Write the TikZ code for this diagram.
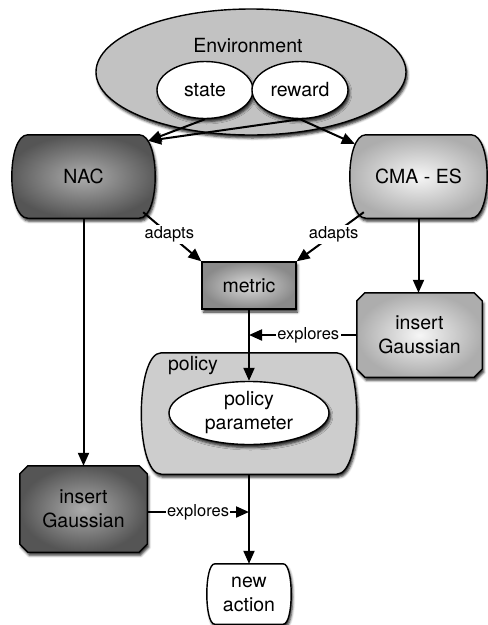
\documentclass[tikz,border=0pt]{standalone}
\usepackage{fontspec}
\setmainfont{TeX Gyre Heros}
\usetikzlibrary{shapes.geometric,shadows.blur,arrows.meta,calc,backgrounds}
\definecolor{envgray}{HTML}{C2C2C2}
\definecolor{polgray}{HTML}{CDCDCD}
\definecolor{darkin}{HTML}{ADADAD}
\definecolor{darkout}{HTML}{555555}
\definecolor{lightin}{HTML}{F6F6F6}
\definecolor{lightout}{HTML}{ADADAD}
\definecolor{metin}{HTML}{DADADA}
\definecolor{metout}{HTML}{8A8A8A}
\newcommand\bulgebox[3]{%
  \path[#3] let \p1=(#1.north west), \p2=(#1.south east) in
  (\x1+#2,\y1) -- (\x2-#2,\y1) .. controls (\x2+#2/3,\y1) and (\x2+#2/3,\y2) .. (\x2-#2,\y2)
  -- (\x1+#2,\y2) .. controls (\x1-#2/3,\y2) and (\x1-#2/3,\y1) .. cycle;}
\newcommand\chambox[3]{%
  \path[#3] let \p1=(#1.north west), \p2=(#1.south east) in
  (\x1+#2,\y1) -- (\x2-#2,\y1) -- (\x2,\y1-#2) -- (\x2,\y2+#2) -- (\x2-#2,\y2)
  -- (\x1+#2,\y2) -- (\x1,\y2+#2) -- (\x1,\y1-#2) -- cycle;}
\begin{document}
\begin{tikzpicture}[x=1pt,y=-1pt,
  font=\fontsize{19.5}{24}\selectfont,
  lbl/.style={font=\fontsize{16.5}{20}\selectfont, fill=white, inner sep=1.5pt},
  arr/.style={line width=2pt, -{Triangle[length=13pt,width=11pt]}},
  shad/.style={blur shadow={shadow xshift=1.5pt,shadow yshift=-3pt,shadow blur radius=2.5pt,shadow opacity=85}},
  bd/.style={draw=black, line width=1.4pt},
  holder/.style={inner sep=0pt, align=center},
  wellipse/.style={ellipse, bd, fill=white, shad, inner sep=0pt, align=center}]
\useasboundingbox (0,0) rectangle (488,625);

% environment
\node[ellipse, bd, fill=envgray, shad, minimum width=310pt, minimum height=126pt] (env) at (251,72) {};
\node (envtext) at (248,46) {Environment};
\node[wellipse, minimum width=96pt, minimum height=57pt] (state) at (205,90) {state};
\node[wellipse, minimum width=96pt, minimum height=57pt] (reward) at (300,90) {reward};

% boxes (text holders)
\node[holder, minimum width=143pt, minimum height=83pt] (nac) at (83.5,176.5) {NAC};
\node[holder, minimum width=137pt, minimum height=83pt] (cma) at (418.5,176.5) {CMA - ES};
\node[rectangle, bd, shad, inner color=metin, outer color=metout, minimum width=94pt, minimum height=47pt] (metric) at (249,285.5) {metric};
\node[holder, minimum width=125pt, minimum height=84pt] (gr) at (419.5,335) {insert\\Gaussian};
\node[holder, minimum width=215pt, minimum height=121pt] (policy) at (249,413.5) {};
\node (policytext) at (193,366) {policy};
\node[wellipse, minimum width=160pt, minimum height=63pt] (pp) at (249,413) {policy\\parameter};
\node[holder, minimum width=127pt, minimum height=86pt] (gl) at (83.5,509) {insert\\Gaussian};
\node[holder, minimum width=84pt, minimum height=60pt] (na) at (249,594) {new\\action};

\begin{scope}[on background layer]
  \bulgebox{nac}{16pt}{bd, shad, inner color=darkin, outer color=darkout}
  \bulgebox{cma}{16pt}{bd, shad, inner color=lightin, outer color=lightout}
  \chambox{gr}{8pt}{bd, shad, inner color=lightin, outer color=lightout}
  \bulgebox{policy}{20pt}{bd, shad, fill=polgray}
  \chambox{gl}{8pt}{bd, shad, inner color=darkin, outer color=darkout}
  \bulgebox{na}{8pt}{bd, shad, fill=white}
\end{scope}

% connector end points
\coordinate (nacin) at ($(nac.north east)+(-7,6)$);
\coordinate (cmain) at ($(cma.north west)+(5,9)$);
\coordinate (nacout) at ($(nac.south east)+(-12,-6)$);
\coordinate (cmaout) at ($(cma.south west)+(14,-6)$);
\coordinate (glout) at ($(gl.east)+(0,3)$);

\draw[arr] (state.south) -- (nacin);
\draw[arr] (reward.south) -- (nacin);
\draw[arr] (reward.south) -- (cmain);
\draw[arr] (nacout) -- node[lbl, pos=0.45] {adapts} (metric.north west);
\draw[arr] (cmaout) -- node[lbl, pos=0.45] {adapts} (metric.north east);
\draw[arr] (nac.south) -- (gl.north);
\draw[arr] (cma.south) -- (cma.south |- gr.north);
\draw[arr] (metric.south) -- (pp.north);
\draw[arr] (policy.south) -- (na.north);
\draw[arr] (gr.west) -- node[lbl, pos=0.45] {explores} (gr.west -| metric.south);
\draw[arr] (glout) -- node[lbl, pos=0.5] {explores} (glout -| na.north);
\end{tikzpicture}
\end{document}
